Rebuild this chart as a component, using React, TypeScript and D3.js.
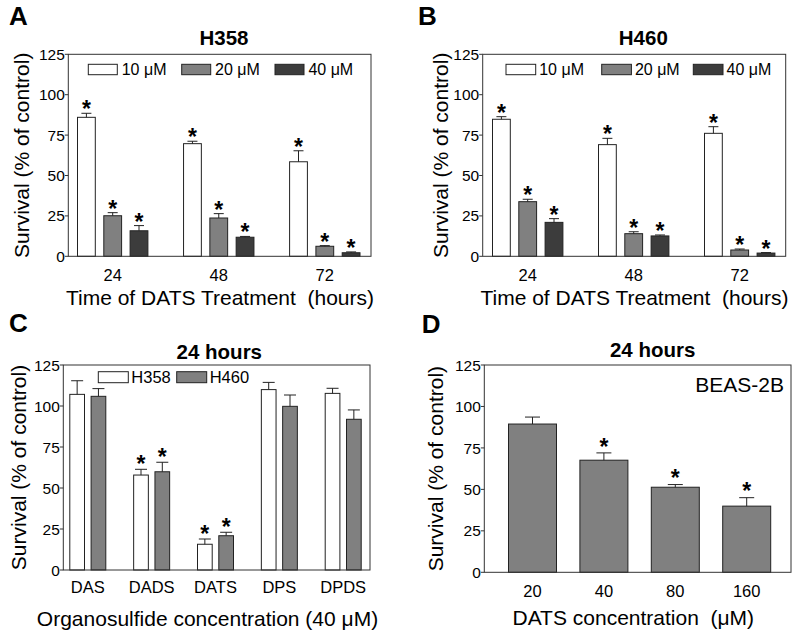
import React from "react";
import * as d3 from "d3";

const FONT = "'Liberation Sans', Arial, Helvetica, sans-serif";
const WHITE = "#ffffff";
const GRAY = "#808080";
const DARK = "#3c3c3c";
const STROKE = "#222222";

// ---- data ----
const timeCategories = ["24", "48", "72"];
const concLabels = ["10 μM", "20 μM", "40 μM"];
const yTicks = [0, 25, 50, 75, 100, 125];

const h358_10 = [86.0, 69.7, 58.5];
const h358_10Err = [2.5, 1.5, 6.8];
const h358_20 = [25.1, 23.7, 6.2];
const h358_20Err = [1.9, 2.7, 0.4];
const h358_40 = [15.8, 11.8, 2.2];
const h358_40Err = [3.2, 0.5, 0.5];
const h358Stars = [[true, true, true], [true, true, true], [true, true, true]];

const h460_10 = [84.8, 69.1, 76.1];
const h460_10Err = [1.6, 3.9, 4.1];
const h460_20 = [33.8, 14.0, 3.9];
const h460_20Err = [1.5, 1.2, 0.6];
const h460_40 = [21.0, 12.6, 2.0];
const h460_40Err = [2.3, 0.6, 0.3];
const h460Stars = [[true, true, true], [true, true, true], [true, true, true]];

const organosulfides = ["DAS", "DADS", "DATS", "DPS", "DPDS"];
const cellLines = ["H358", "H460"];
const orgH358 = [107.1, 57.9, 15.7, 110.0, 107.7];
const orgH358Err = [8.3, 3.5, 3.2, 4.4, 3.1];
const orgH460 = [105.9, 59.9, 20.9, 99.8, 91.9];
const orgH460Err = [4.7, 5.8, 2.1, 6.9, 5.7];
const orgStars = [[false, true, true, false, false], [false, true, true, false, false]];

const datsConc = ["20", "40", "80", "160"];
const beasValues = [89.4, 67.6, 51.3, 39.9];
const beasErr = [4.2, 4.4, 1.6, 5.1];
const beasStars = [[false, true, true, true]];

type Series = { values: number[]; errors: number[]; fill: string; label?: string };

type PanelCfg = {
  letter: string; letterX: number; letterY: number;
  title: string; titleX: number; titleY: number;
  left: number; right: number; top: number; bottom: number;
  categories: string[]; centerRange: [number, number];
  series: Series[]; stars: boolean[][];
  barWidth: number; barStep: number; cap: number; starGap: number;
  xTickY: number; xLabel: string; xLabelX: number; xLabelY: number;
  yLabelX: number;
  legend?: { y: number; h: number; w: number; xs: number[]; gap: number; textY: number; fontSize: number };
  note?: { text: string; x: number; y: number };
};

function Panel({ c }: { c: PanelCfg }) {
  const y = d3.scaleLinear().domain([0, 125]).range([c.bottom, c.top]);
  const x = d3.scalePoint<string>().domain(c.categories).range(c.centerRange);
  const n = c.series.length;
  const off = (i: number) => (i - (n - 1) / 2) * c.barStep;
  return (
    <g>
      <text x={c.letterX} y={c.letterY} fontSize={26} fontWeight="bold" fontFamily={FONT}>{c.letter}</text>
      <text x={c.titleX} y={c.titleY} fontSize={20.5} fontWeight="bold" fontFamily={FONT} textAnchor="middle">{c.title}</text>
      {/* bars */}
      {c.series.map((s, si) =>
        c.categories.map((cat, ci) => {
          const cx = (x(cat) as number) + off(si);
          const v = s.values[ci];
          const e = s.errors[ci];
          const top = y(v);
          const et = y(v + e);
          return (
            <g key={`${si}-${ci}`}>
              <rect x={cx - c.barWidth / 2} y={top} width={c.barWidth} height={c.bottom - top}
                fill={s.fill} stroke={STROKE} strokeWidth={1} />
              <line x1={cx} x2={cx} y1={top} y2={et} stroke={STROKE} strokeWidth={1} />
              <line x1={cx - c.cap / 2} x2={cx + c.cap / 2} y1={et} y2={et} stroke={STROKE} strokeWidth={1} />
              {c.stars[si] && c.stars[si][ci] ? (
                <text x={cx} y={et - c.starGap + 12.7} fontSize={23} fontWeight="bold" fontFamily={FONT} textAnchor="middle">*</text>
              ) : null}
            </g>
          );
        })
      )}
      {/* frame */}
      <rect x={c.left} y={c.top} width={c.right - c.left} height={c.bottom - c.top} fill="none" stroke="#333" strokeWidth={1} />
      {/* y ticks */}
      {yTicks.map((t) => (
        <g key={t}>
          <line x1={c.left - 3.5} x2={c.left} y1={y(t)} y2={y(t)} stroke="#333" strokeWidth={1} />
          <text x={c.left - 3.5} y={y(t)} dy="0.36em" fontSize={15.5} fontFamily={FONT} textAnchor="end">{t}</text>
        </g>
      ))}
      {/* x tick labels */}
      {c.categories.map((cat) => (
        <text key={cat} x={x(cat) as number} y={c.xTickY} fontSize={16.5} fontFamily={FONT} textAnchor="middle">{cat}</text>
      ))}
      <text x={c.xLabelX} y={c.xLabelY} fontSize={21} fontFamily={FONT} textAnchor="middle" style={{ whiteSpace: "pre" }}>{c.xLabel}</text>
      <text transform={`translate(${c.yLabelX},${(c.top + c.bottom) / 2}) rotate(-90)`} fontSize={21} fontFamily={FONT} textAnchor="middle">Survival (% of control)</text>
      {c.legend ? c.series.map((s, si) => (
        <g key={`lg${si}`}>
          <rect x={c.legend!.xs[si]} y={c.legend!.y} width={c.legend!.w} height={c.legend!.h} fill={s.fill} stroke={STROKE} strokeWidth={1} />
          <text x={c.legend!.xs[si] + c.legend!.w + c.legend!.gap} y={c.legend!.textY} fontSize={c.legend!.fontSize} fontFamily={FONT}>{s.label}</text>
        </g>
      )) : null}
      {c.note ? (
        <text x={c.note.x} y={c.note.y} fontSize={21} fontFamily={FONT} textAnchor="end">{c.note.text}</text>
      ) : null}
    </g>
  );
}

const fills3 = [WHITE, GRAY, DARK];

const panelA: PanelCfg = {
  letter: "A", letterX: 9, letterY: 25,
  title: "H358", titleX: 224, titleY: 45,
  left: 68.3, right: 371, top: 54.3, bottom: 256.3,
  categories: timeCategories, centerRange: [112.7, 324.8],
  series: [
    { values: h358_10, errors: h358_10Err, fill: fills3[0], label: concLabels[0] },
    { values: h358_20, errors: h358_20Err, fill: fills3[1], label: concLabels[1] },
    { values: h358_40, errors: h358_40Err, fill: fills3[2], label: concLabels[2] },
  ],
  stars: h358Stars,
  barWidth: 17.8, barStep: 26.3, cap: 10, starGap: 8.7,
  xTickY: 280.5, xLabel: "Time of DATS Treatment  (hours)", xLabelX: 220, xLabelY: 305,
  yLabelX: 28.5,
  legend: { y: 64.3, h: 10.4, w: 29, xs: [88.3, 181.7, 275], gap: 4.4, textY: 75, fontSize: 16 },
};

const panelB: PanelCfg = {
  letter: "B", letterX: 418, letterY: 25,
  title: "H460", titleX: 643.3, titleY: 45,
  left: 482.7, right: 785.7, top: 54.3, bottom: 256.3,
  categories: timeCategories, centerRange: [527.7, 739.7],
  series: [
    { values: h460_10, errors: h460_10Err, fill: fills3[0], label: concLabels[0] },
    { values: h460_20, errors: h460_20Err, fill: fills3[1], label: concLabels[1] },
    { values: h460_40, errors: h460_40Err, fill: fills3[2], label: concLabels[2] },
  ],
  stars: h460Stars,
  barWidth: 17.8, barStep: 26.3, cap: 10, starGap: 8.7,
  xTickY: 280.5, xLabel: "Time of DATS Treatment  (hours)", xLabelX: 634.5, xLabelY: 305,
  yLabelX: 447.5,
  legend: { y: 64.3, h: 10.4, w: 29.7, xs: [506, 601.7, 693.3], gap: 3.5, textY: 75, fontSize: 16 },
};

const panelC: PanelCfg = {
  letter: "C", letterX: 9, letterY: 331.5,
  title: "24 hours", titleX: 219.3, titleY: 359,
  left: 63.3, right: 370, top: 365, bottom: 570,
  categories: organosulfides, centerRange: [87.8, 343.2],
  series: [
    { values: orgH358, errors: orgH358Err, fill: WHITE, label: cellLines[0] },
    { values: orgH460, errors: orgH460Err, fill: GRAY, label: cellLines[1] },
  ],
  stars: orgStars,
  barWidth: 14.7, barStep: 21.3, cap: 12, starGap: 10,
  xTickY: 593, xLabel: "Organosulfide concentration (40 μM)", xLabelX: 207.5, xLabelY: 626,
  yLabelX: 25.5,
  legend: { y: 371.7, h: 11, w: 30, xs: [98.3, 176.7], gap: 3, textY: 383, fontSize: 16.5 },
};

const panelD: PanelCfg = {
  letter: "D", letterX: 421.7, letterY: 333,
  title: "24 hours", titleX: 652.7, titleY: 356.5,
  left: 484.3, right: 791, top: 365, bottom: 572.3,
  categories: datsConc, centerRange: [532.5, 746.7],
  series: [{ values: beasValues, errors: beasErr, fill: GRAY }],
  stars: beasStars,
  barWidth: 48, barStep: 0, cap: 15, starGap: 11,
  xTickY: 596.5, xLabel: "DATS concentration  (μM)", xLabelX: 633.3, xLabelY: 625,
  yLabelX: 443,
  note: { text: "BEAS-2B", x: 784, y: 391.5 },
};

export default function App() {
  return (
    <svg width={800} height={634} viewBox="0 0 800 634"
      style={{ position: "absolute", left: 0, top: 0, background: "#fff" }}>
      <rect x={0} y={0} width={800} height={634} fill="#fff" />
      <Panel c={panelA} />
      <Panel c={panelB} />
      <Panel c={panelC} />
      <Panel c={panelD} />
    </svg>
  );
}
